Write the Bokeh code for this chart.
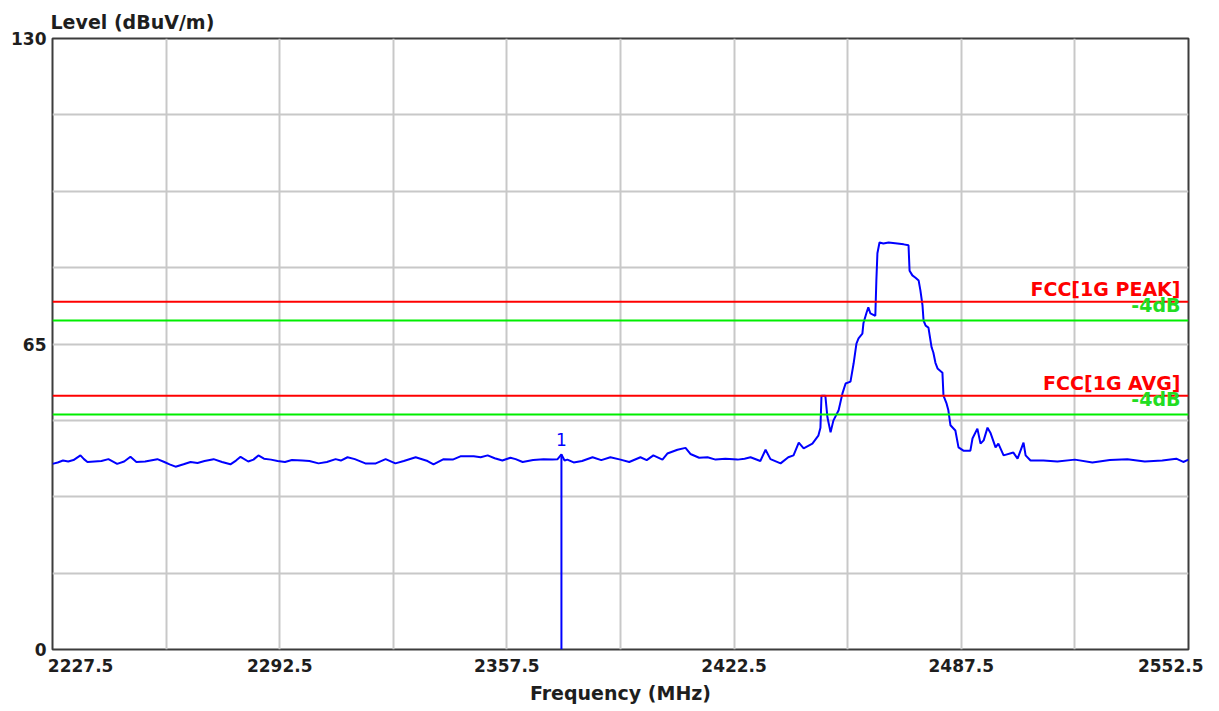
from bokeh.plotting import figure
from bokeh.models import Range1d, FixedTicker, Label, Span
from bokeh.embed import file_html
from bokeh.resources import INLINE

# ---------------- data ----------------
freq_mhz = [
    2227.5, 2229.0, 2230.5, 2232.0, 2233.5, 2235.5, 2236.5, 2237.5, 2239.5, 2241.5,
    2243.5, 2246.0, 2248.0, 2249.8, 2251.5, 2254.0, 2257.5, 2259.5, 2261.0, 2262.7,
    2265.0, 2267.0, 2269.0, 2271.0, 2273.6, 2276.0, 2278.4, 2280.0, 2281.3, 2283.5,
    2285.0, 2286.4, 2288.0, 2290.0, 2291.9, 2294.0, 2296.0, 2299.0, 2301.0, 2303.6,
    2306.0, 2308.5, 2310.0, 2311.9, 2314.0, 2317.0, 2320.0, 2322.8, 2325.6, 2328.0,
    2331.4, 2334.8, 2336.5, 2339.4, 2342.0, 2344.2, 2348.0, 2350.0, 2352.0, 2354.0,
    2356.2, 2358.5, 2360.0, 2362.0, 2365.0, 2368.0, 2370.5, 2372.0, 2373.1, 2374.0,
    2374.8, 2376.6, 2379.0, 2382.0, 2384.5, 2387.1, 2390.0, 2392.5, 2395.7, 2397.5,
    2399.4, 2402.0, 2403.4, 2406.3, 2408.6, 2410.0, 2412.5, 2414.9, 2417.2, 2420.0,
    2423.5, 2425.5, 2427.2, 2430.0, 2431.5, 2432.9, 2435.8, 2438.0, 2439.5, 2441.0,
    2442.4, 2444.9, 2446.6, 2447.2, 2447.5, 2448.6, 2449.2, 2450.1, 2450.9, 2452.4,
    2453.5, 2454.4, 2455.8, 2456.7, 2457.5, 2458.1, 2459.2, 2459.5, 2460.4, 2460.9,
    2461.5, 2462.9, 2463.2, 2463.5, 2464.1, 2465.2, 2466.7, 2469.2, 2471.0, 2472.4,
    2472.7, 2473.5, 2474.4, 2475.3, 2475.8, 2476.4, 2476.7, 2477.3, 2478.1, 2479.0,
    2479.5, 2480.1, 2480.7, 2482.1, 2482.4, 2483.3, 2483.8, 2484.4, 2485.8, 2486.7,
    2488.1, 2490.1, 2490.7, 2492.1, 2493.0, 2493.9, 2495.0, 2495.9, 2497.3, 2498.1,
    2499.6, 2502.4, 2503.6, 2505.3, 2505.9, 2507.3, 2511.0, 2515.0, 2520.0, 2525.0,
    2530.0, 2535.0, 2540.0, 2545.0, 2549.0, 2551.0, 2552.5,
]
level_dbuv = [
    39.5, 39.8, 40.2, 40.0, 40.3, 41.3, 40.5, 39.9, 40.0, 40.1,
    40.5, 39.5, 40.0, 41.0, 39.9, 40.0, 40.5, 39.9, 39.4, 38.9,
    39.4, 39.9, 39.7, 40.1, 40.5, 39.9, 39.4, 40.2, 41.0, 40.0,
    40.4, 41.3, 40.6, 40.4, 40.1, 39.9, 40.3, 40.2, 40.1, 39.6,
    39.9, 40.5, 40.2, 40.9, 40.5, 39.6, 39.6, 40.5, 39.6, 40.1,
    40.9, 40.1, 39.4, 40.5, 40.4, 41.1, 41.1, 40.9, 41.3, 40.7,
    40.2, 40.8, 40.5, 39.9, 40.3, 40.5, 40.4, 40.5, 41.5, 40.2,
    40.4, 39.8, 40.1, 40.9, 40.3, 40.9, 40.4, 39.9, 40.9, 40.3,
    41.3, 40.4, 41.7, 42.5, 42.9, 41.6, 40.8, 40.9, 40.4, 40.6,
    40.4, 40.6, 40.9, 40.1, 42.5, 40.5, 39.6, 40.9, 41.3, 44.0,
    42.8, 43.8, 45.5, 47.2, 54.0, 54.0, 49.4, 46.2, 48.7, 50.9,
    54.5, 56.6, 57.0, 60.9, 65.1, 66.2, 67.2, 69.4, 71.7, 72.8,
    71.5, 71.0, 78.5, 84.3, 86.6, 86.4, 86.6, 86.4, 86.2, 86.0,
    80.6, 79.6, 79.1, 78.5, 76.4, 73.2, 70.0, 68.9, 68.5, 64.3,
    63.2, 61.0, 59.8, 58.9, 54.0, 52.3, 50.9, 47.7, 46.6, 43.0,
    42.3, 42.3, 44.9, 47.0, 43.8, 44.5, 47.2, 46.0, 43.0, 43.8,
    41.3, 41.9, 40.6, 44.0, 41.3, 40.2, 40.2, 40.0, 40.4, 39.8,
    40.3, 40.5, 40.0, 40.2, 40.6, 39.9, 40.4,
]

x_start, x_end = 2227.5, 2552.5
y_min, y_max = 0, 130
x_major = [2227.5, 2292.5, 2357.5, 2422.5, 2487.5, 2552.5]
x_minor = [2260.0, 2325.0, 2390.0, 2455.0, 2520.0]
y_major = [0, 65, 130]
y_minor = [16.25, 32.5, 48.75, 81.25, 97.5, 113.75]

limit_names = ["FCC[1G PEAK]", "FCC[1G AVG]"]
limit_levels = [74, 54]
margin_db = 4
margin_label = "-4dB"

marker_freq = 2373.1
marker_level = 41.5
marker_name = "1"

x_title = "Frequency (MHz)"
y_title = "Level (dBuV/m)"

# ---------------- layout ----------------
FRAME_W, FRAME_H = 1136, 611
BL, BR, BT, BB = 52, 15, 38, 60
pxu_y = FRAME_H / (y_max - y_min)

FONT = "DejaVu Sans"
TXT = "#1e1e1e"
NBSP = "\u00a0"

p = figure(width=BL + FRAME_W + BR, height=BT + FRAME_H + BB,
           x_range=Range1d(x_start, x_end), y_range=Range1d(y_min, y_max),
           output_backend="svg", toolbar_location=None)
p.min_border_left = BL
p.min_border_right = BR
p.min_border_top = BT
p.min_border_bottom = BB
p.background_fill_color = "white"
p.border_fill_color = "white"
p.outline_line_color = "#3c3c3c"
p.outline_line_width = 2

# y title, top-left
p.title.text = y_title
p.title.align = "left"
p.title.offset = -2
p.title.standoff = 11
p.title.text_font = FONT
p.title.text_font_style = "bold"
p.title.text_font_size = "19px"
p.title.text_color = TXT

# grid
p.xaxis.ticker = FixedTicker(ticks=x_major, minor_ticks=x_minor)
p.yaxis.ticker = FixedTicker(ticks=y_major, minor_ticks=y_minor)
for g in (p.xgrid, p.ygrid):
    g.grid_line_color = "#c8c8c8"
    g.grid_line_width = 2
    g.minor_grid_line_color = "#c8c8c8"
    g.minor_grid_line_width = 2

for ax in (p.xaxis, p.yaxis):
    ax.axis_line_color = None
    ax.major_tick_line_color = None
    ax.minor_tick_line_color = None
    ax.major_label_text_font = FONT
    ax.major_label_text_font_style = "bold"
    ax.major_label_text_font_size = "17px"
    ax.major_label_text_color = TXT

p.yaxis.major_label_standoff = 0
p.yaxis.major_label_overrides = {v: str(v) for v in y_major}
p.xaxis.major_label_standoff = 0
xo = {v: f"{v:.1f}" for v in x_major}
# first label sits inside the frame as in the original instrument plot
xo[x_major[0]] = NBSP * 8 + f"{x_major[0]:.1f}"
p.xaxis.major_label_overrides = xo
p.xaxis.axis_label = x_title
p.xaxis.axis_label_text_font = FONT
p.xaxis.axis_label_text_font_style = "bold"
p.xaxis.axis_label_text_font_size = "19px"
p.xaxis.axis_label_text_color = TXT
p.xaxis.axis_label_standoff = 3

# limit lines
for name, lv in zip(limit_names, limit_levels):
    p.add_layout(Span(location=lv, dimension="width", line_color="#ff0000", line_width=2))
    p.add_layout(Span(location=lv - margin_db, dimension="width", line_color="#00ee00", line_width=2))
    p.add_layout(Label(x=x_end, y=lv + 13 / pxu_y, text=name, text_align="right",
                       text_baseline="alphabetic", x_offset=-8,
                       text_font=FONT, text_font_style="bold", text_font_size="19px",
                       text_color="#ff0000"))
    p.add_layout(Label(x=x_end, y=lv - margin_db + 16 / pxu_y, text=margin_label,
                       text_align="right", text_baseline="alphabetic", x_offset=-8,
                       text_font=FONT, text_font_style="bold", text_font_size="19px",
                       text_color="#22dd22"))

# trace
p.line(freq_mhz, level_dbuv, line_color="#0000ff", line_width=2)

# marker
p.segment(x0=[marker_freq], y0=[y_min], x1=[marker_freq], y1=[marker_level],
          line_color="#0000ff", line_width=2)
p.add_layout(Label(x=marker_freq, y=marker_level + 8 / pxu_y, text=marker_name,
                   text_align="center", text_baseline="bottom",
                   text_font=FONT, text_font_size="17px", text_color="#0000ff"))

open("out.html", "w").write(file_html(p, INLINE))
